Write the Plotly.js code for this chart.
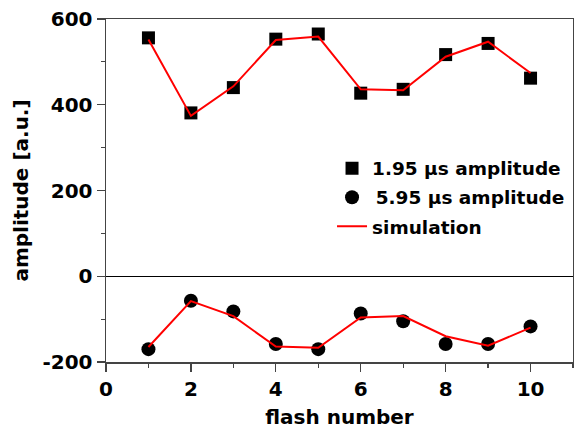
<!DOCTYPE html>
<html>
<head>
<meta charset="utf-8">
<script src="https://cdn.plot.ly/plotly-3.0.1.min.js"></script>
<style>html,body{margin:0;padding:0;background:#fff;}#chart{width:574px;height:429px;}</style>
</head>
<body>
<div id="chart"></div>
<script>
var flashNumber = [1, 2, 3, 4, 5, 6, 7, 8, 9, 10];
var amp195 = [556, 381, 440, 553, 565, 427, 436, 517, 543, 462];
var amp595 = [-170, -57, -82, -158, -170, -87, -105, -158, -158, -117];
var sim195 = [552, 374, 443, 551, 559, 436, 434, 512, 547, 474];
var sim595 = [-165, -58, -93, -164, -167, -96, -93, -140, -162, -120];
var yTickVals = [-200, 0, 200, 400, 600];
var yTickText = ['-200', '0', '200', '400', '600'];
var xTickVals = [0, 2, 4, 6, 8, 10];
var xTickText = ['0', '2', '4', '6', '8', '10'];

var FONT = 'DejaVu Sans, sans-serif';
var traces = [
  {x: flashNumber, y: amp195, mode: 'markers', type: 'scatter', name: '1.95 µs amplitude',
   marker: {symbol: 'square', size: 13, color: '#000'}},
  {x: flashNumber, y: amp595, mode: 'markers', type: 'scatter', name: '\u20095.95 µs amplitude',
   marker: {symbol: 'circle', size: 14, color: '#000'}},
  {x: flashNumber, y: sim195, mode: 'lines', type: 'scatter', name: 'simulation', legendgroup: 'sim',
   line: {color: '#ff0000', width: 2}},
  {x: flashNumber, y: sim595, mode: 'lines', type: 'scatter', name: 'simulation', legendgroup: 'sim',
   showlegend: false, line: {color: '#ff0000', width: 2}}
];

var layout = {
  width: 574, height: 429,
  margin: {l: 106, r: 1, t: 19, b: 67},
  paper_bgcolor: '#fff', plot_bgcolor: '#fff',
  font: {family: FONT, color: '#000', size: 19},
  showlegend: true,
  legend: {x: 0.484, y: 0.619, xanchor: 'left', yanchor: 'top', bgcolor: 'rgba(0,0,0,0)',
           tracegroupgap: 2,
           font: {family: FONT, size: 18.5, color: '#000', weight: 'bold'}},
  xaxis: {
    range: [0, 11], showgrid: false, zeroline: false,
    showline: true, linecolor: '#444', linewidth: 1.5, mirror: true,
    ticks: 'outside', ticklen: 8, tickwidth: 1.2, tickcolor: '#444',
    tickvals: xTickVals, ticktext: xTickText,
    tickfont: {family: FONT, size: 20, color: '#000', weight: 'bold'},
    minor: {dtick: 1, tick0: 0, ticks: 'outside', ticklen: 4, tickwidth: 1.2, tickcolor: '#444', showgrid: false},
    title: {text: 'flash number', font: {family: FONT, size: 20, color: '#000', weight: 'bold'}, standoff: 11}
  },
  yaxis: {
    range: [-200, 600], showgrid: false,
    zeroline: true, zerolinecolor: '#000', zerolinewidth: 1.2,
    showline: true, linecolor: '#444', linewidth: 1.5, mirror: true,
    ticks: 'outside', ticklen: 8, tickwidth: 1.2, tickcolor: '#444',
    tickvals: yTickVals, ticktext: yTickText,
    tickfont: {family: FONT, size: 20, color: '#000', weight: 'bold'},
    minor: {dtick: 100, tick0: 0, ticks: 'outside', ticklen: 4, tickwidth: 1.2, tickcolor: '#444', showgrid: false},
    title: {text: 'amplitude [a.u.]', font: {family: FONT, size: 20, color: '#000', weight: 'bold'}, standoff: 8}
  }
};

Plotly.newPlot('chart', traces, layout, {displayModeBar: false, staticPlot: true});
</script>
</body>
</html>
